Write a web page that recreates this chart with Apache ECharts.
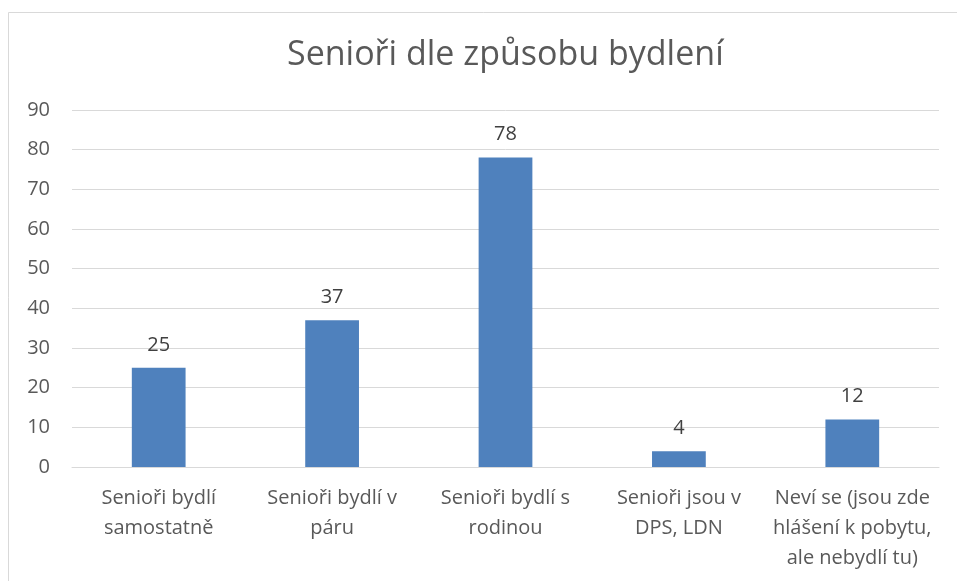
<!DOCTYPE html>
<html><head><meta charset="utf-8">
<script src="https://cdn.jsdelivr.net/npm/echarts@6/dist/echarts.min.js"></script>
<style>html,body{margin:0;padding:0;background:#fff}#c{width:957px;height:581px}</style>
</head><body><div id="c"></div>
<script>
const titleText = 'Senioři dle způsobu bydlení';
const categories = ['Senioři bydlí\nsamostatně','Senioři bydlí v\npáru','Senioři bydlí s\nrodinou','Senioři jsou v\nDPS, LDN','Neví se (jsou zde\nhlášení k pobytu,\nale nebydlí tu)'];
const values = [25, 37, 78, 4, 12];
const yTicks = {min: 0, max: 90, interval: 10};

const chart = echarts.init(document.getElementById('c'), null, {renderer: 'canvas'});
const font = '"Open Sans", "Noto Sans", sans-serif';
chart.setOption({
  animation: false,
  backgroundColor: '#fff',
  graphic: [{type: 'rect', shape: {x: 8.5, y: 12.5, width: 1000, height: 700}, style: {fill: 'none', stroke: '#d9d9d9', lineWidth: 1}, silent: true}],
  title: {text: titleText, left: 282, top: 33, textStyle: {fontFamily: font, fontSize: 34, fontWeight: 'normal', color: '#595959'}},
  grid: {left: 72, right: 18, top: 110, bottom: 114, containLabel: false},
  xAxis: {type: 'category', data: categories,
    axisLine: {lineStyle: {color: '#d9d9d9', width: 1}}, axisTick: {show: false},
    axisLabel: {fontFamily: font, fontSize: 20, color: '#595959', margin: 16, lineHeight: 30, interval: 0}},
  yAxis: {type: 'value', min: yTicks.min, max: yTicks.max, interval: yTicks.interval,
    axisLine: {show: false}, axisTick: {show: false},
    splitLine: {lineStyle: {color: '#d9d9d9', width: 1}},
    axisLabel: {fontFamily: font, fontSize: 20, color: '#595959', margin: 22}},
  series: [{type: 'bar', data: values, barWidth: '31%', itemStyle: {color: '#4F81BD'},
    label: {show: true, position: 'top', distance: 13, fontFamily: font, fontSize: 20, color: '#404040'}}]
});
</script></body></html>
